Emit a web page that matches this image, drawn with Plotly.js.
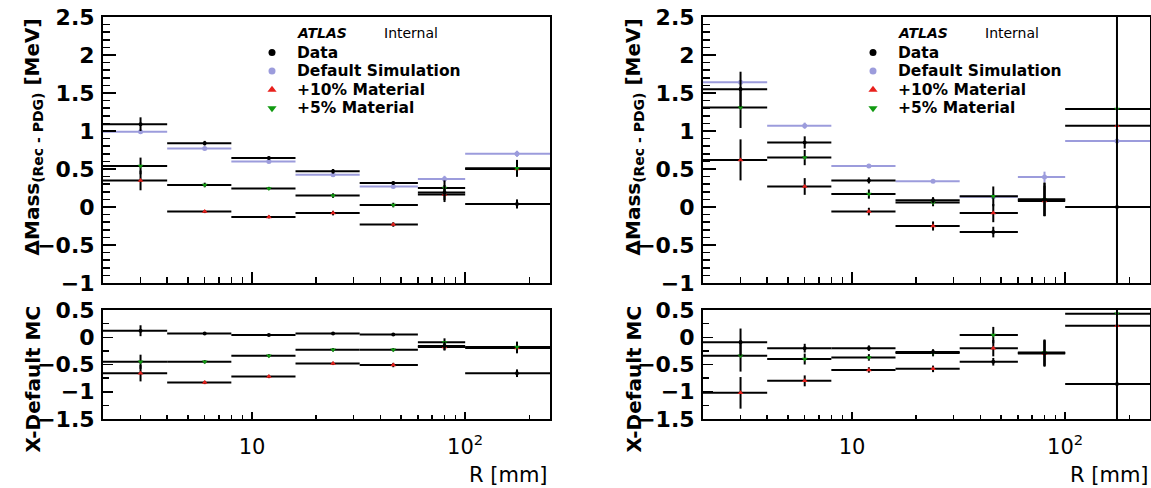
<!DOCTYPE html>
<html>
<head>
<meta charset="utf-8">
<script src="https://cdn.plot.ly/plotly-3.0.1.min.js"></script>
<style>html,body{margin:0;padding:0;background:#fff;}#plot{width:1151px;height:488px;}</style>
</head>
<body>
<div id="plot"></div>
<script>
// ---- data ----
const binEdges = [2, 4, 8, 16, 32, 60, 100, 250];

// left panel, top: Delta Mass (Rec - PDG) [MeV]
const dataL      = [1.09, 0.84, 0.645, 0.47, 0.315, 0.19, 0.04];
const dataLErr   = [0.09, 0.03, 0.02, 0.03, 0.02, 0.10, 0.06];
const defSimL    = [0.99, 0.77, 0.60, 0.425, 0.27, 0.37, 0.70];
const defSimLErr = [0.03, 0.02, 0.02, 0.02, 0.02, 0.04, 0.04];
const mat10L     = [0.35, -0.06, -0.13, -0.08, -0.23, 0.165, 0.50];
const mat10LErr  = [0.13, 0.02, 0.02, 0.03, 0.03, 0.10, 0.10];
const mat5L      = [0.54, 0.29, 0.245, 0.15, 0.026, 0.25, 0.51];
const mat5LErr   = [0.11, 0.03, 0.02, 0.03, 0.03, 0.10, 0.11];

// left panel, bottom: X - Default MC
const dataLDiff     = [0.12, 0.07, 0.04, 0.07, 0.05, -0.16, -0.66];
const dataLDiffErr  = [0.10, 0.02, 0.02, 0.02, 0.02, 0.08, 0.07];
const mat10LDiff    = [-0.66, -0.83, -0.72, -0.48, -0.51, -0.18, -0.195];
const mat10LDiffErr = [0.15, 0.03, 0.03, 0.03, 0.04, 0.06, 0.10];
const mat5LDiff     = [-0.45, -0.45, -0.34, -0.23, -0.23, -0.09, -0.18];
const mat5LDiffErr  = [0.13, 0.03, 0.03, 0.03, 0.03, 0.07, 0.10];

// right panel, top
const dataR      = [1.55, 0.85, 0.35, 0.09, -0.33, 0.10, 0.0];
const dataRErr   = [0.23, 0.08, 0.04, 0.04, 0.07, 0.22, 5];
const defSimR    = [1.64, 1.07, 0.54, 0.34, 0.135, 0.395, 0.87];
const defSimRErr = [0.02, 0.04, 0.02, 0.02, 0.02, 0.07, 0.02];
const mat10R     = [0.62, 0.27, -0.06, -0.25, -0.08, 0.08, 1.07];
const mat10RErr  = [0.27, 0.11, 0.05, 0.06, 0.12, 0.20, 0.02];
const mat5R      = [1.31, 0.65, 0.17, 0.06, 0.14, 0.10, 1.29];
const mat5RErr   = [0.27, 0.10, 0.06, 0.05, 0.13, 0.22, 0.02];

// right panel, bottom
const dataRDiff     = [-0.09, -0.20, -0.20, -0.27, -0.45, -0.29, -0.86];
const dataRDiffErr  = [0.25, 0.08, 0.05, 0.05, 0.07, 0.24, 5];
const mat10RDiff    = [-1.02, -0.80, -0.60, -0.58, -0.20, -0.30, 0.21];
const mat10RDiffErr = [0.29, 0.10, 0.05, 0.06, 0.15, 0.24, 0.02];
const mat5RDiff     = [-0.34, -0.40, -0.37, -0.29, 0.04, -0.28, 0.43];
const mat5RDiffErr  = [0.29, 0.10, 0.06, 0.06, 0.15, 0.24, 0.02];

const legendLabels = ["Data", "Default Simulation", "+10% Material", "+5% Material"];
const xMajorTicks = [10, 100];
const xMajorText = ["10", "10<sup>2</sup>"];
const xMinorTicks = [3, 4, 5, 6, 7, 8, 9, 20, 30, 40, 50, 60, 70, 80, 90, 200];
const yTitleTop = "ΔMass<sub>(Rec - PDG)</sub> [MeV]";
const yTitleBottom = "X-Default MC";
const xTitle = "R [mm]";

// ---- build ----
const centers = binEdges.slice(0, -1).map((e, i) => (e + binEdges[i + 1]) / 2);
const errPlus = centers.map((c, i) => binEdges[i + 1] - c);
const errMinus = centers.map((c, i) => c - binEdges[i]);

const BLACK = "#000000", PURPLE = "#9c9cdc", RED = "#e8201c", GREEN = "#119a11";
const W = 1151, H = 488;
const px = v => v / W, py = v => 1 - v / H;

function tr(y, err, xa, ya, mColor, symbol, size, barColor) {
  return {
    type: "scatter", mode: "markers", x: centers, y: y, xaxis: xa, yaxis: ya,
    showlegend: false, cliponaxis: true, hoverinfo: "skip",
    marker: {color: mColor, symbol: symbol, size: size},
    error_x: {type: "data", symmetric: false, array: errPlus, arrayminus: errMinus,
              color: barColor, thickness: 2, width: 0},
    error_y: {type: "data", array: err, color: barColor, thickness: 2, width: 0}
  };
}

const traces = [
  tr(defSimL, defSimLErr, "x", "y", PURPLE, "circle", 5, PURPLE),
  tr(mat10L, mat10LErr, "x", "y", RED, "triangle-up", 5, BLACK),
  tr(mat5L, mat5LErr, "x", "y", GREEN, "triangle-down", 5, BLACK),
  tr(dataL, dataLErr, "x", "y", BLACK, "circle", 4, BLACK),

  tr(mat10LDiff, mat10LDiffErr, "x2", "y2", RED, "triangle-up", 5, BLACK),
  tr(mat5LDiff, mat5LDiffErr, "x2", "y2", GREEN, "triangle-down", 5, BLACK),
  tr(dataLDiff, dataLDiffErr, "x2", "y2", BLACK, "circle", 4, BLACK),

  tr(defSimR, defSimRErr, "x3", "y3", PURPLE, "circle", 5, PURPLE),
  tr(mat10R, mat10RErr, "x3", "y3", RED, "triangle-up", 5, BLACK),
  tr(mat5R, mat5RErr, "x3", "y3", GREEN, "triangle-down", 5, BLACK),
  tr(dataR, dataRErr, "x3", "y3", BLACK, "circle", 4, BLACK),

  tr(mat10RDiff, mat10RDiffErr, "x4", "y4", RED, "triangle-up", 5, BLACK),
  tr(mat5RDiff, mat5RDiffErr, "x4", "y4", GREEN, "triangle-down", 5, BLACK),
  tr(dataRDiff, dataRDiffErr, "x4", "y4", BLACK, "circle", 4, BLACK)
];

// legend keys (layout positions, in pixels on an overlay axis)
const panelOffsets = [0, 601];
const rowY = [52.5, 71.1, 89.7, 108.3];
const keyStyles = [
  {c: BLACK, s: "circle", z: 7},
  {c: PURPLE, s: "circle", z: 7},
  {c: RED, s: "triangle-up", z: 8},
  {c: GREEN, s: "triangle-down", z: 8}
];
keyStyles.forEach((k, i) => {
  traces.push({
    type: "scatter", mode: "markers", xaxis: "x5", yaxis: "y5", showlegend: false, hoverinfo: "skip",
    x: panelOffsets.map(o => 272 + o), y: panelOffsets.map(() => rowY[i]),
    marker: {color: k.c, symbol: k.s, size: k.z}
  });
});

const tickFont = {family: "DejaVu Sans", size: 22, weight: 700, color: "#000"};

function xAxis(dom, anchor, labels, majLen, minLen) {
  return {
    type: "log", domain: dom, anchor: anchor,
    range: [Math.log10(binEdges[0]), Math.log10(binEdges[binEdges.length - 1])],
    showline: true, linecolor: "#000", linewidth: 2, mirror: true,
    showgrid: false, zeroline: false,
    tickmode: "array", tickvals: xMajorTicks, ticktext: xMajorText,
    showticklabels: labels, ticks: "inside", ticklen: majLen, tickwidth: 2, tickcolor: "#000",
    ticklabelstandoff: 8,
    tickfont: {family: "DejaVu Sans", size: 21, weight: 400, color: "#000"},
    minor: {tickmode: "array", tickvals: xMinorTicks, ticks: "inside", ticklen: minLen,
            tickwidth: 1.5, tickcolor: "#000", showgrid: false}
  };
}
function yAxis(dom, anchor, range, minorD, majLen, minLen) {
  return {
    domain: dom, anchor: anchor, range: range,
    showline: true, linecolor: "#000", linewidth: 2, mirror: true,
    showgrid: false, zeroline: false,
    tickmode: "linear", tick0: 0, dtick: 0.5,
    ticks: "inside", ticklen: majLen, tickwidth: 1.5, tickcolor: "#000",
    tickfont: tickFont, ticklabelstandoff: 2,
    minor: {tick0: 0, dtick: minorD, ticks: "inside", ticklen: minLen, tickwidth: 1.5,
            tickcolor: "#000", showgrid: false}
  };
}

const topDom = [py(283), py(17)];
const botDom = [py(419), py(310)];
const leftDom = [px(103), px(550)];
const rightDom = [px(703), px(1150)];

const annotations = [];
panelOffsets.forEach(off => {
  annotations.push({xref: "paper", yref: "paper", x: px(32 + off), y: py(18), xanchor: "center", yanchor: "top",
    text: yTitleTop, textangle: -90, showarrow: false, borderpad: 0,
    font: {family: "DejaVu Sans", size: 20, weight: 700, color: "#000"}});
  annotations.push({xref: "paper", yref: "paper", x: px(32 + off), y: py(305), xanchor: "center", yanchor: "top",
    text: yTitleBottom, textangle: -90, showarrow: false, borderpad: 0,
    font: {family: "DejaVu Sans", size: 20, weight: 700, color: "#000"}});
  annotations.push({xref: "paper", yref: "paper", x: px(549 + off), y: py(475), xanchor: "right", yanchor: "middle",
    text: xTitle, showarrow: false, borderpad: 0,
    font: {family: "DejaVu Sans", size: 21, weight: 400, color: "#000"}});
  annotations.push({xref: "paper", yref: "paper", x: px(296 + off), y: py(33), xanchor: "left", yanchor: "middle",
    text: "<b><i>ATLAS</i></b>", showarrow: false, borderpad: 0,
    font: {family: "DejaVu Sans", size: 14, color: "#000"}});
  annotations.push({xref: "paper", yref: "paper", x: px(383 + off), y: py(33), xanchor: "left", yanchor: "middle",
    text: "Internal", showarrow: false, borderpad: 0,
    font: {family: "DejaVu Sans", size: 14, color: "#000"}});
  legendLabels.forEach((lab, i) => {
    annotations.push({xref: "paper", yref: "paper", x: px(296 + off), y: py(rowY[i]), xanchor: "left", yanchor: "middle",
      text: lab, showarrow: false, borderpad: 0,
      font: {family: "DejaVu Sans", size: 15.5, weight: 700, color: "#000"}});
  });
});

const layout = {
  width: W, height: H,
  margin: {l: 0, r: 0, t: 0, b: 0},
  paper_bgcolor: "#fff", plot_bgcolor: "rgba(0,0,0,0)",
  showlegend: false,
  xaxis: xAxis(leftDom, "y", false, 11, 6),
  yaxis: yAxis(topDom, "x", [-1, 2.5], 0.1, 13, 7),
  xaxis2: xAxis(leftDom, "y2", true, 7, 4),
  yaxis2: yAxis(botDom, "x2", [-1.5, 0.5], 0.25, 10, 6),
  xaxis3: xAxis(rightDom, "y3", false, 11, 6),
  yaxis3: yAxis(topDom, "x3", [-1, 2.5], 0.1, 13, 7),
  xaxis4: xAxis(rightDom, "y4", true, 7, 4),
  yaxis4: yAxis(botDom, "x4", [-1.5, 0.5], 0.25, 10, 6),
  xaxis5: {domain: [0, 1], range: [0, W], visible: false, fixedrange: true, anchor: "y5"},
  yaxis5: {domain: [0, 1], range: [H, 0], visible: false, fixedrange: true, anchor: "x5"},
  annotations: annotations
};

Plotly.newPlot("plot", traces, layout, {displayModeBar: false, staticPlot: true});
</script>
</body>
</html>
